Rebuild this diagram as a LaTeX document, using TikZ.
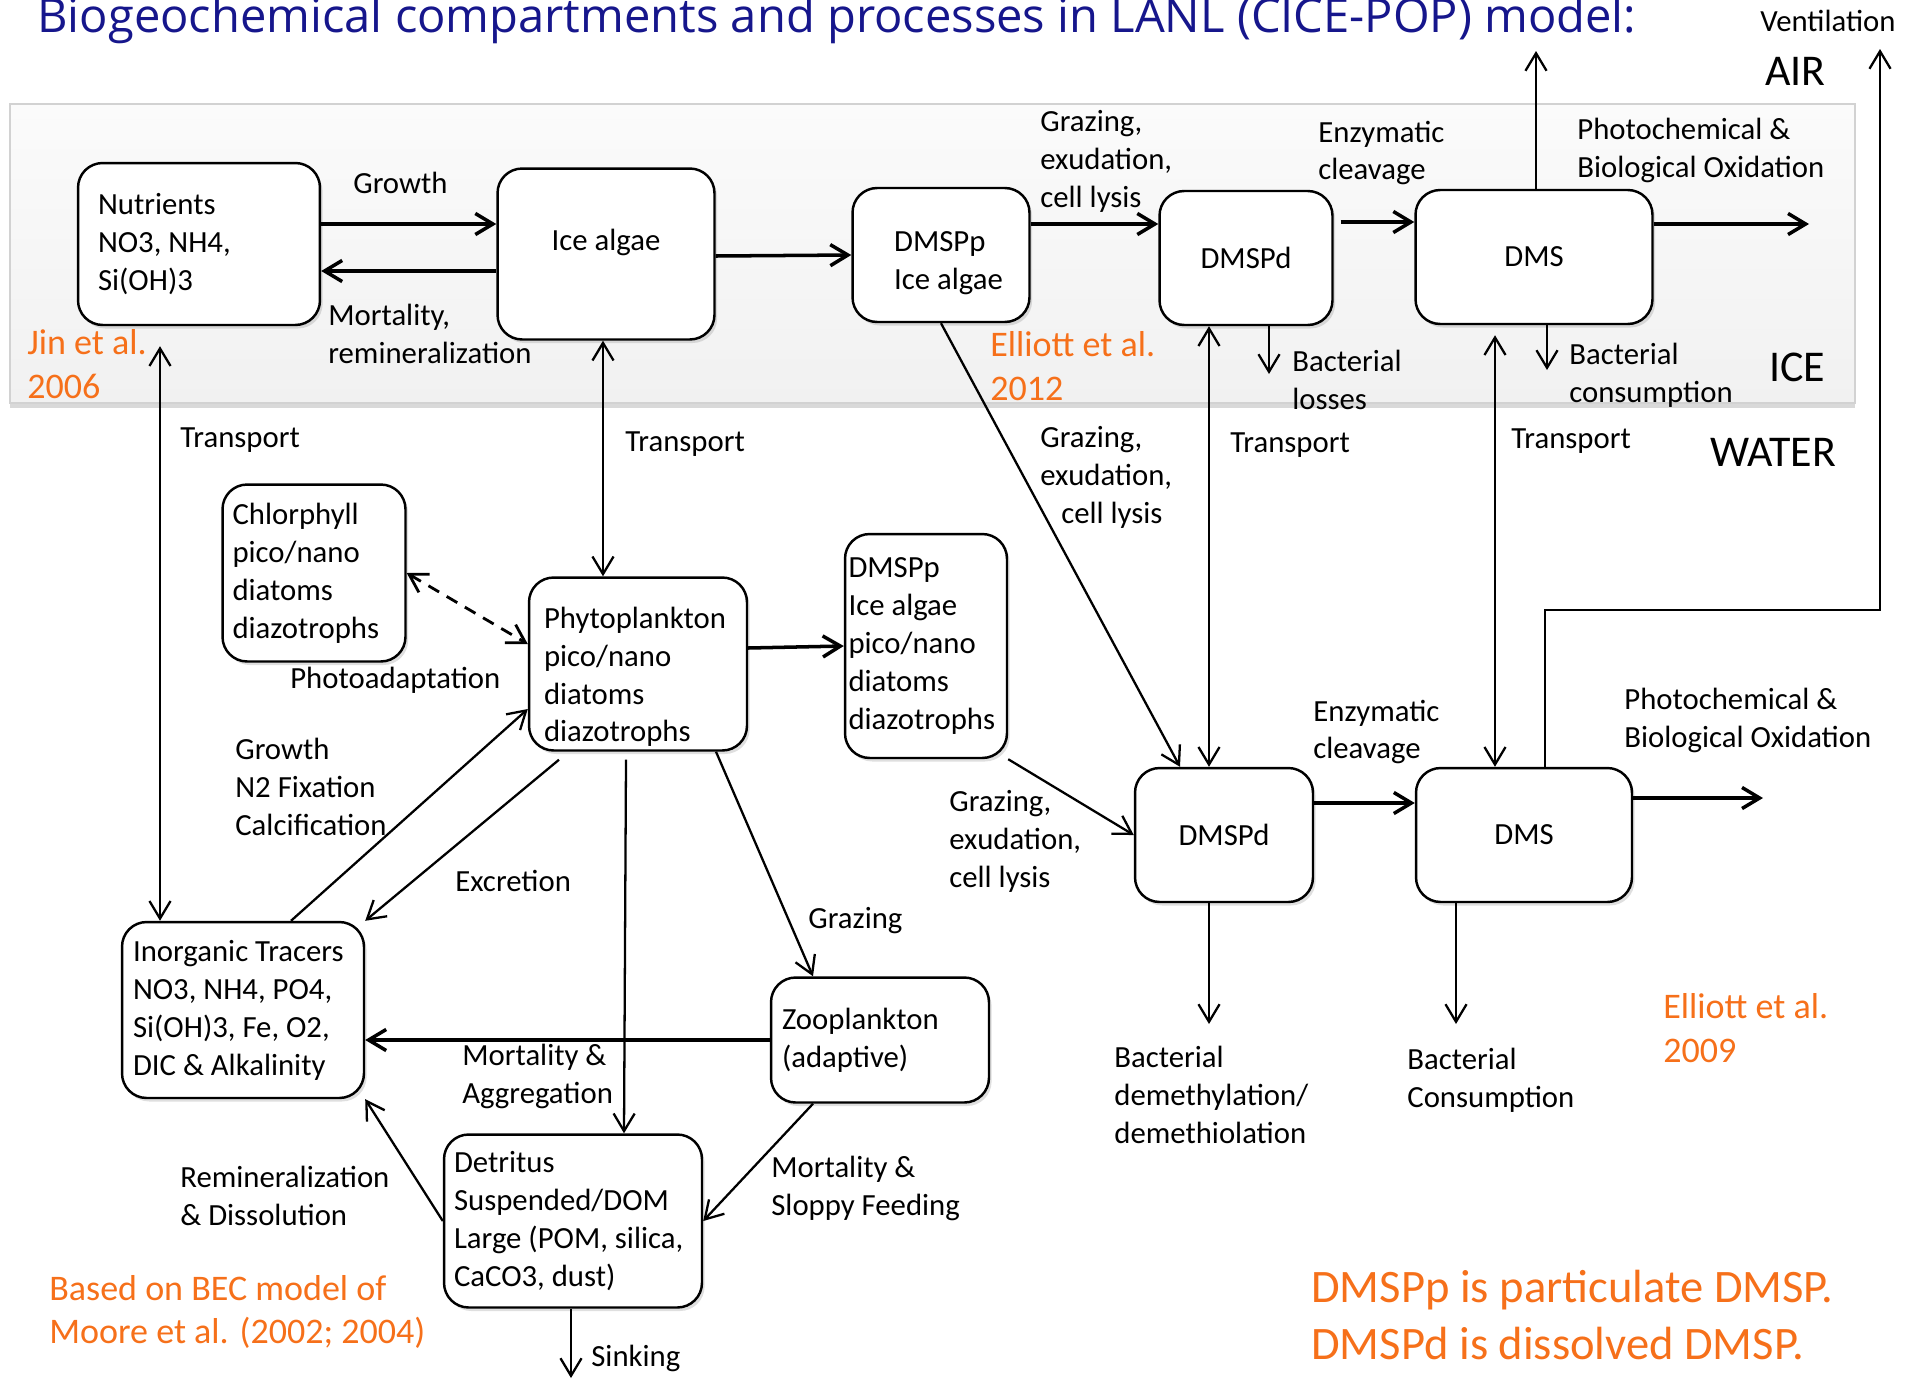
\documentclass[tikz,border=0pt]{standalone}
\usepackage{fontspec}
\setmainfont{Carlito}
\newfontfamily\titlefont{Open Sans}
\usepackage[HTML]{xcolor}
\usepackage{tikz}
\usetikzlibrary{positioning, arrows, arrows.meta, shadows}
\hyphenpenalty=10000

\definecolor{titleblue}{HTML}{16168C}
\definecolor{citeorange}{HTML}{F6701A}

\tikzset{
    comp/.style={draw, line width=1.4pt, rounded corners=14pt, fill=white, align=flush left,
        inner xsep=0.3cm, inner ysep=0pt,
        drop shadow={shadow xshift=1.5pt, shadow yshift=-2pt, opacity=0.25}},
    flow/.style={line width=2pt, ->},
    link/.style={line width=1.3pt, ->},
    lbl/.style={anchor=west, align=flush left, inner sep=0pt},
    cite/.style={lbl, text=citeorange, font=\fontsize{20.5}{25}\selectfont},
    zone/.style={lbl, font=\fontsize{25}{30}\selectfont},
}

\begin{document}
\begin{tikzpicture}[x=0.02cm, y=-0.02cm, font=\fontsize{17.5}{21.6}\selectfont,
    >={Straight Barb[length=10pt,width=12pt]}]
    \useasboundingbox (0,0) rectangle (1917,1380);

    % Ice layer
    \draw[gray!35, line width=1pt, top color=gray!3, bottom color=gray!11,
        drop shadow={shadow xshift=0pt, shadow yshift=-3pt, opacity=0.3}] (10,104) rectangle (1855,403);

    \node[anchor=base west, inner sep=0pt, text=titleblue, font=\titlefont\fontsize{26.8}{30}\selectfont]
        (title) at (37,32) {Biogeochemical compartments and processes in LANL (CICE-POP) model:};

    % Define nodes
    \node[comp, text width=4.04cm, inner xsep=0.4cm, minimum height=3.24cm] (nutri) at (199,244) {Nutrients\\NO3, NH4,\\Si(OH)3};
    \node[comp, align=center, minimum width=4.34cm, minimum height=3.42cm] (icealg) at (606,254) {\raisebox{0.55cm}{Ice algae}};
    \node[comp, minimum width=3.54cm, minimum height=2.68cm] (dmsppi) at (941,255) {\rule{0pt}{0.74cm}\hspace*{0.3cm}DMSPp\\\hspace*{0.3cm}Ice algae};
    \node[comp, align=center, minimum width=3.46cm, minimum height=2.68cm] (dmspdi) at (1246,258) {DMSPd};
    \node[comp, align=center, minimum width=4.74cm, minimum height=2.68cm] (dmsi) at (1534,257) {\raisebox{-0.3cm}{DMS}};

    \node[comp, text width=3.26cm, inner xsep=0.2cm, minimum height=3.54cm] (chl) at (314,573) {Chlorphyll\\pico/nano\\diatoms\\diazotrophs};
    \node[comp, text width=3.76cm, minimum height=3.46cm] (phyto) at (638,664) {\rule{0pt}{0.94cm}Phytoplankton\\pico/nano\\diatoms\\diazotrophs};
    \node[comp, text width=3.1cm, inner xsep=0.07cm, minimum height=4.48cm] (dmsppw) at (926,646) {DMSPp\\Ice algae\\pico/nano\\diatoms\\diazotrophs};
    \node[comp, align=center, minimum width=3.56cm, minimum height=2.68cm] (dmspdw) at (1224,835) {DMSPd};
    \node[comp, align=center, minimum width=4.32cm, minimum height=2.68cm] (dmsw) at (1524,835) {DMS};
    \node[comp, text width=4.4cm, inner xsep=0.22cm, minimum height=3.52cm] (inorg) at (243,1010) {Inorganic Tracers\\NO3, NH4, PO4,\\Si(OH)3, Fe, O2,\\DIC \& Alkalinity};
    \node[comp, text width=3.92cm, inner xsep=0.22cm, minimum height=2.5cm] (zoo) at (880,1040) {Zooplankton\\(adaptive)};
    \node[comp, text width=4.76cm, inner xsep=0.2cm, minimum height=3.46cm] (detr) at (573,1221) {Detritus\\Suspended/DOM\\Large (POM, silica,\\CaCO3, dust)};

    % Free ends
    \coordinate (oxi) at (1809,224);
    \coordinate (venti) at (1536,51);
    \coordinate (vent) at (1880,49);
    \coordinate (bloss) at (1269,374);
    \coordinate (bcons) at (1547,370);
    \coordinate (oxw) at (1763,798);
    \coordinate (bdem) at (1209,1024);
    \coordinate (bconw) at (1456,1024);
    \coordinate (sink) at (571,1378);

    % Draw arrows in the ice
    \draw[flow] (nutri.east |- 0,224) -- (icealg.west |- 0,224);
    \draw[flow] (icealg.west |- 0,271) -- (nutri.east |- 0,271);
    \draw[flow] (icealg.east |- 0,256) -- (dmsppi.west |- 0,255);
    \draw[flow] (dmsppi.east |- 0,224) -- (dmspdi.west |- 0,224);
    \draw[flow] ([xshift=0.14cm]dmspdi.east |- 0,222) -- (dmsi.west |- 0,222);
    \draw[flow] (dmsi.east |- 0,224) -- (oxi);
    \draw[link] (1536,0 |- dmsi.north) -- (venti);
    \draw[link] (1269,0 |- dmspdi.south) -- (bloss);
    \draw[link] (1547,0 |- dmsi.south) -- (bcons);

    % Draw arrows between ice and water
    \draw[link, <->] ([yshift=-0.4cm]nutri.south -| 160,0) -- (inorg.north -| 160,0);
    \draw[link, <->] (icealg.south -| 603,0) -- (phyto.north -| 603,0);
    \draw[link] (dmsppi.south) -- (1180,0 |- dmspdw.north);
    \draw[link, <->] (dmspdi.south -| 1209,0) -- (dmspdw.north -| 1209,0);
    \draw[link, <->] ([yshift=-0.2cm]dmsi.south -| 1495,0) -- (dmsw.north -| 1495,0);
    \draw[link] (dmsw.north -| 1545,0) |- (1880,610) -- (vent);

    % Draw arrows in the water
    \draw[line width=1.6pt, dash pattern=on 7pt off 5pt, <->] (chl.east) -- (phyto.west |- 0,644);
    \draw[flow] (phyto.east |- 0,648) -- (dmsppw.west |- 0,646);
    \draw[link] (291,0 |- inorg.north) -- (phyto.west |- 0,709);
    \draw[link] ([yshift=-0.16cm]phyto.south -| 559,0) -- (inorg.north east);
    \draw[link] ([yshift=-0.16cm]phyto.south -| 626,0) -- (detr.north -| 624,0);
    \draw[link] (phyto.south -| 716,0) -- (zoo.north -| 813,0);
    \draw[flow] (zoo.west) -- (inorg.east |- zoo.west);
    \draw[link] (zoo.south -| 813,0) -- (detr.east);
    \draw[link] (detr.west) -- (inorg.south east);
    \draw[link] (detr.south -| 571,0) -- (sink);
    \draw[link] (dmsppw.south east) -- (dmspdw.west);
    \draw[flow] (dmspdw.east |- 0,803) -- (dmsw.west |- 0,803);
    \draw[flow] (dmsw.east |- 0,798) -- (oxw);
    \draw[link] (dmspdw.south -| 1209,0) -- (bdem);
    \draw[link] (dmsw.south -| 1456,0) -- (bconw);

    % Labels
    \node[lbl] (lgrowth) at (353,183) {Growth};
    \node[lbl] (lmort) at (328,334) {Mortality,\\remineralization};
    \node[lbl] (lgrazi) at (1040,161) {Grazing,\\exudation,\\cell lysis};
    \node[lbl] (lenzi) at (1318,153) {Enzymatic\\cleavage};
    \node[lbl] (loxi) at (1577,150) {Photochemical \&\\Biological Oxidation};
    \node[lbl] (lvent) at (1760,21) {Ventilation};
    \node[zone] (lair) at (1765,71) {AIR};
    \node[zone] (lice) at (1769,367) {ICE};
    \node[zone] (lwater) at (1710,452) {WATER};
    \node[cite] (ljin) at (27,364) {Jin et al.\\2006};
    \node[cite] (lell12) at (990,366) {Elliott et al.\\2012};
    \node[lbl] (lbloss) at (1292,380) {Bacterial\\losses};
    \node[lbl] (lbcons) at (1569,375) {Bacterial\\consumption};
    \node[lbl] (ltra) at (180,440) {Transport};
    \node[lbl] (ltrb) at (625,444) {Transport};
    \node[lbl] (ltrc) at (1230,445) {Transport};
    \node[lbl] (ltrd) at (1511,441) {Transport};
    \node[lbl] (lgrazw) at (1040,477) {Grazing,\\exudation,\\\hspace*{0.42cm}cell lysis};
    \node[lbl] (lphotoad) at (290,680) {Photoadaptation};
    \node[lbl] (lgrowthw) at (235,787) {Growth\\N2 Fixation\\Calcification};
    \node[lbl] (lexcr) at (455,881) {Excretion};
    \node[lbl] (lgrazz) at (808,921) {Grazing};
    \node[lbl] (lgrazd) at (949,841) {Grazing,\\exudation,\\cell lysis};
    \node[lbl] (lenzw) at (1313,732) {Enzymatic\\cleavage};
    \node[lbl] (loxw) at (1624,720) {Photochemical \&\\Biological Oxidation};
    \node[lbl] (lmortagg) at (462,1076) {Mortality \&\\Aggregation};
    \node[lbl] (lremin) at (180,1196) {Remineralization\\\& Dissolution};
    \node[lbl] (lsloppy) at (771,1188) {Mortality \&\\Sloppy Feeding};
    \node[lbl] (lsink) at (591,1358) {Sinking};
    \node[lbl] (lbdem) at (1114,1095) {Bacterial\\demethylation/\\demethiolation};
    \node[lbl] (lbconw) at (1407,1080) {Bacterial\\Consumption};
    \node[cite] (lell09) at (1663,1028) {Elliott et al.\\2009};
    \node[cite] (lbec) at (49,1312) {Based on BEC model of\\Moore et al. (2002; 2004)};
    \node[cite, font=\fontsize{26.5}{33}\selectfont] (lnote) at (1311,1315) {DMSPp is particulate DMSP.\\DMSPd is dissolved DMSP.};
\end{tikzpicture}
\end{document}
